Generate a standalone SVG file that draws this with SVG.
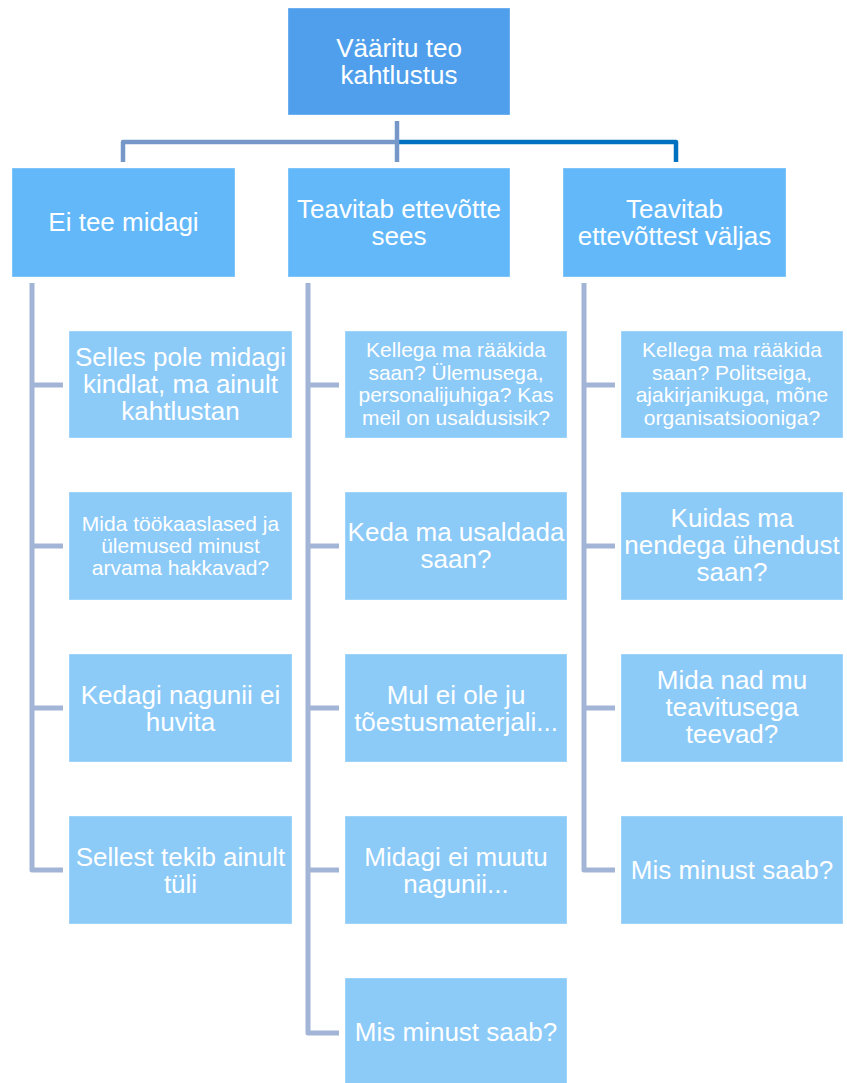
<svg xmlns="http://www.w3.org/2000/svg" width="847" height="1083" viewBox="0 0 847 1083">
<style>
.root{fill:#4F9FEC}
.l1{fill:#63B8F9}
.l2{fill:#8CCAF8}
.box{stroke:#FFFFFF;stroke-opacity:0.35;stroke-width:1}
text{font-family:"Liberation Sans",Arial,sans-serif;fill:#FFFFFF;text-anchor:middle}
.big{font-size:26px}
.small{font-size:21px}
.col{fill:none;stroke:#A3B5D7;stroke-width:5;stroke-linejoin:round}
.gray{fill:none;stroke:#7598C9;stroke-width:4.5;stroke-linejoin:round}
.blue{fill:none;stroke:#0070C0;stroke-width:4.5;stroke-linejoin:round}
</style>
<rect width="847" height="1083" fill="#FFFFFF"/>
<g id="connectors">
<path class="blue" d="M397,142 H676 V162"/>
<path class="gray" d="M123,162 V142 H397"/>
<path class="gray" d="M397,121 V162"/>
<path class="col" d="M32,283 V870 H63 M32,385 H63 M32,546 H63 M32,708 H63"/>
<path class="col" d="M308,283 V1033 H339 M308,385 H339 M308,546 H339 M308,708 H339 M308,870 H339"/>
<path class="col" d="M584,283 V870 H615 M584,385 H615 M584,546 H615 M584,708 H615"/>
</g>
<g id="root">
<rect class="root box" x="288" y="8" width="222" height="107"/>
<text class="big" x="399" y="57">Vääritu teo</text>
<text class="big" x="399" y="84">kahtlustus</text>
</g>
<g id="n-ei-tee">
<rect class="l1 box" x="12" y="168" width="223" height="109"/>
<text class="big" x="123.5" y="231">Ei tee midagi</text>
</g>
<g id="n-sees">
<rect class="l1 box" x="288" y="168" width="222" height="109"/>
<text class="big" x="399" y="218">Teavitab ettevõtte</text>
<text class="big" x="399" y="245">sees</text>
</g>
<g id="n-valjas">
<rect class="l1 box" x="563" y="168" width="223" height="109"/>
<text class="big" x="674.5" y="218">Teavitab</text>
<text class="big" x="674.5" y="245">ettevõttest väljas</text>
</g>
<g id="a1">
<rect class="l2 box" x="69" y="331" width="223" height="107"/>
<text class="big" x="180.5" y="366">Selles pole midagi</text>
<text class="big" x="180.5" y="393">kindlat, ma ainult</text>
<text class="big" x="180.5" y="420">kahtlustan</text>
</g>
<g id="a2">
<rect class="l2 box" x="69" y="492" width="223" height="108"/>
<text class="small" x="180.5" y="531">Mida töökaaslased ja</text>
<text class="small" x="180.5" y="553">ülemused minust</text>
<text class="small" x="180.5" y="575">arvama hakkavad?</text>
</g>
<g id="a3">
<rect class="l2 box" x="69" y="654" width="223" height="108"/>
<text class="big" x="180.5" y="704">Kedagi nagunii ei</text>
<text class="big" x="180.5" y="731">huvita</text>
</g>
<g id="a4">
<rect class="l2 box" x="69" y="816" width="223" height="108"/>
<text class="big" x="180.5" y="866">Sellest tekib ainult</text>
<text class="big" x="180.5" y="893">tüli</text>
</g>
<g id="b1">
<rect class="l2 box" x="345" y="331" width="222" height="107"/>
<text class="small" x="456" y="357">Kellega ma rääkida</text>
<text class="small" x="456" y="380">saan? Ülemusega,</text>
<text class="small" x="456" y="402">personalijuhiga? Kas</text>
<text class="small" x="456" y="425">meil on usaldusisik?</text>
</g>
<g id="b2">
<rect class="l2 box" x="345" y="492" width="222" height="108"/>
<text class="big" x="456" y="541">Keda ma usaldada</text>
<text class="big" x="456" y="568">saan?</text>
</g>
<g id="b3">
<rect class="l2 box" x="345" y="654" width="222" height="108"/>
<text class="big" x="456" y="704">Mul ei ole ju</text>
<text class="big" x="456" y="731">tõestusmaterjali...</text>
</g>
<g id="b4">
<rect class="l2 box" x="345" y="816" width="222" height="108"/>
<text class="big" x="456" y="866">Midagi ei muutu</text>
<text class="big" x="456" y="893">nagunii...</text>
</g>
<g id="b5">
<rect class="l2 box" x="345" y="978" width="222" height="107"/>
<text class="big" x="456" y="1041">Mis minust saab?</text>
</g>
<g id="c1">
<rect class="l2 box" x="621" y="331" width="222" height="107"/>
<text class="small" x="732" y="357">Kellega ma rääkida</text>
<text class="small" x="732" y="380">saan? Politseiga,</text>
<text class="small" x="732" y="402">ajakirjanikuga, mõne</text>
<text class="small" x="732" y="425">organisatsiooniga?</text>
</g>
<g id="c2">
<rect class="l2 box" x="621" y="492" width="222" height="108"/>
<text class="big" x="732" y="527">Kuidas ma</text>
<text class="big" x="732" y="554">nendega ühendust</text>
<text class="big" x="732" y="581">saan?</text>
</g>
<g id="c3">
<rect class="l2 box" x="621" y="654" width="222" height="108"/>
<text class="big" x="732" y="689">Mida nad mu</text>
<text class="big" x="732" y="716">teavitusega</text>
<text class="big" x="732" y="743">teevad?</text>
</g>
<g id="c4">
<rect class="l2 box" x="621" y="816" width="222" height="108"/>
<text class="big" x="732" y="879">Mis minust saab?</text>
</g>
</svg>
